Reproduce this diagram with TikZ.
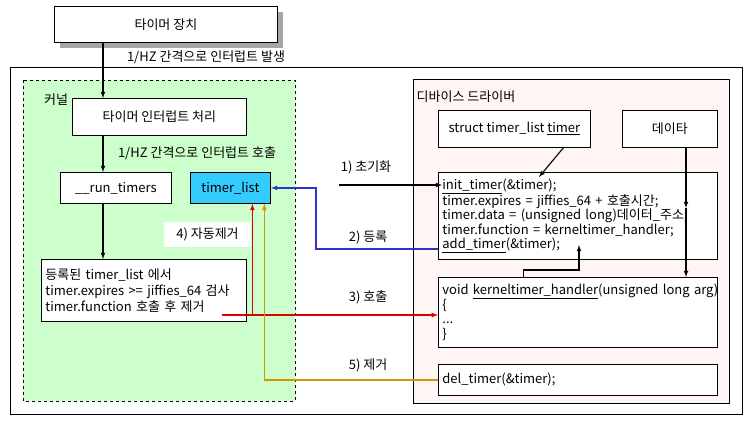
\documentclass[tikz,border=0pt]{standalone}
\usepackage{fontspec}
\setmainfont{Noto Sans CJK KR}
\usetikzlibrary{positioning,shapes,shadows,arrows}
\definecolor{kernelgreen}{HTML}{CCFFCC}
\definecolor{listcyan}{HTML}{33CCFF}
\definecolor{driverpink}{HTML}{FFF5F5}
\definecolor{callred}{HTML}{DD0000}
\definecolor{delorange}{HTML}{CC9900}
\definecolor{regblue}{HTML}{3333CC}

\begin{document}
\begin{tikzpicture} [x=1pt, y=-1pt, >=latex, font=\fontsize{13}{14.5}\selectfont,
    box/.style={draw, line width=0.8pt, fill=white, inner sep=0pt, anchor=north west},
    textbox/.style={box, align=left, inner xsep=4pt},
    label/.style={inner sep=1pt},
    link/.style={->, line width=1.1pt},
    colorlink/.style={->, line width=1.2pt},]
\useasboundingbox (0,0) rectangle (751,422);

\draw[line width=0.8pt] (10,67) rectangle (742,414);
\draw[dashed, line width=0.8pt, fill=kernelgreen] (23,80) rectangle (295,401);
\draw[line width=0.8pt, fill=driverpink] (413,79) rectangle (729,403);

\node[box, minimum width=223pt, minimum height=36pt,
    drop shadow={shadow xshift=6pt, shadow yshift=-6pt, fill=gray!70, opacity=1}] (dev) at (54,6) {타이머 장치};
\node[label] (hz1) at (206,57) {1/HZ 간격으로 인터럽트 발생};

\node[label] (kernel) at (56,100) {커널};
\node[box, minimum width=174pt, minimum height=37pt] (isr) at (72,98) {타이머 인터럽트 처리};
\node[label] (hz2) at (197,153) {1/HZ 간격으로 인터럽트 호출};
\node[box, minimum width=111pt, minimum height=31pt] (run) at (60,172) {\_\_run\_timers};
\node[box, fill=listcyan, minimum width=80pt, minimum height=31pt] (tlist) at (190,172) {timer\_list};
\node[textbox, text width=197pt, minimum height=62pt, font=\fontsize{13}{16}\selectfont] (check) at (41,259)
    {등록된 timer\_list 에서\\timer.expires >= jiffies\_64 검사\\timer.function 호출 후 제거};
\node[fill=white, minimum width=87pt, minimum height=25pt, inner sep=0pt] (auto) at (207.5,234.5) {4) 자동제거};

\node[label] (driver) at (466,97) {디바이스 드라이버};
\node[box, minimum width=152pt, minimum height=37pt] (tstruct) at (438,110) {struct timer\_list \underline{timer}};
\node[box, minimum width=95pt, minimum height=37pt] (data) at (622,110) {데이타};
\node[textbox, text width=271pt, minimum height=87pt] (code) at (438,172)
    {\underline{init\_timer}(\&timer);\\timer.expires = jiffies\_64 + 호출시간;\\timer.data = (unsigned long)데이터\_주소;\\timer.function = kerneltimer\_handler;\\\underline{add\_timer}(\&timer);};
\node[textbox, text width=271pt, minimum height=70pt] (handler) at (438,277)
    {\mbox{void \underline{kerneltimer\_handler}(unsigned long arg)}\\\{\\...\\\}};
\node[textbox, text width=271pt, minimum height=31pt] (del) at (438,364) {del\_timer(\&timer);};

\node[label] (step1) at (366,167) {1) 초기화};
\node[label] (step2) at (368,237) {2) 등록};
\node[label] (step3) at (368,297) {3) 호출};
\node[label] (step5) at (368,365) {5) 제거};

\coordinate (spine) at (103,0);
\coordinate (initfrom) at (339,185);
\coordinate (initpt) at (442,185);
\coordinate (timerarg) at (539,177);
\coordinate (addrpt) at (686,208);
\coordinate (fnpt) at (579,245);
\coordinate (addpt) at (438,249);
\coordinate (redstart) at (222,315);
\coordinate (redup) at ([xshift=22pt]tlist.south);
\coordinate (orangeup) at ([xshift=34pt]tlist.south);

\draw[link] (dev.south -| spine) -- (isr.north -| spine);
\draw[link] (isr.south -| spine) -- (run.north -| spine);
\draw[link] (run.south -| spine) -- (check.north -| spine);

\draw[link] (initfrom) -- (initpt);
\draw[link] ([xshift=49pt]tstruct.south) -- (timerarg);
\draw[link] (data.south -| addrpt) -- (addrpt);
\draw[link] (addrpt) -- (handler.north -| addrpt);
\draw[link] ([xshift=-54.5pt]handler.north) -- ++(0,-7) -| (fnpt);

\draw[colorlink, regblue] (addpt) -- ++(-122,0) |- (tlist.east);
\draw[colorlink, callred] (redstart) -- (redstart -| handler.west);
\draw[colorlink, callred] (redstart -| redup) -- (redup);
\draw[colorlink, delorange] (del.west) -- (del.west -| orangeup) -- (orangeup);

\end{tikzpicture}
\end{document}
